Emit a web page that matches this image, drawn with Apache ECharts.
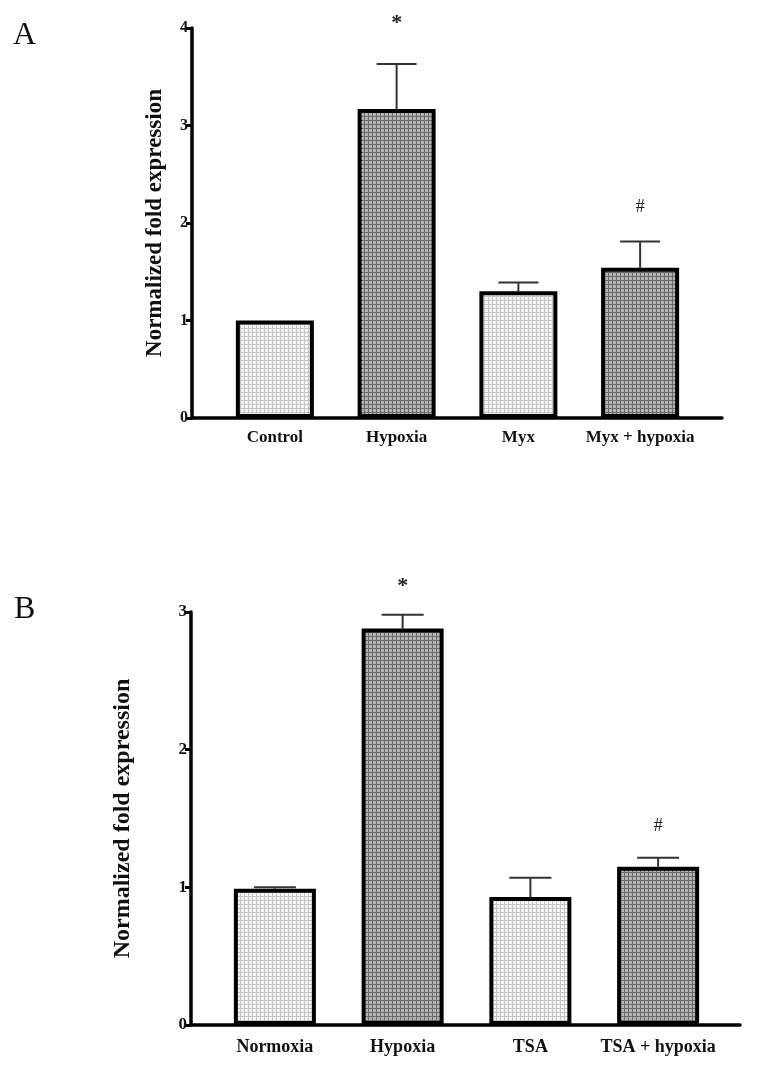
<!DOCTYPE html>
<html>
<head>
<meta charset="utf-8">
<script src="https://cdn.jsdelivr.net/npm/echarts@6/dist/echarts.min.js"></script>
<style>
html,body{margin:0;padding:0;background:#fff;}
#chart{width:760px;height:1067px;}
</style>
</head>
<body>
<div id="chart"></div>
<script>
// ---- Data ----
const categoriesA = ['Control', 'Hypoxia', 'Myx', 'Myx + hypoxia'];
const meansA = [1.0, 3.17, 1.30, 1.54];
const errorsA = [0.0, 0.46, 0.09, 0.27];
const marksA = ['', '*', '', '#'];
const markLevelsA = [null, 4.05, null, 2.16];
const yTicksA = [0, 1, 2, 3, 4];

const categoriesB = ['Normoxia', 'Hypoxia', 'TSA', 'TSA + hypoxia'];
const meansB = [0.99, 2.88, 0.93, 1.15];
const errorsB = [0.01, 0.10, 0.14, 0.065];
const marksB = ['', '*', '', '#'];
const markLevelsB = [null, 3.19, null, 1.44];
const yTicksB = [0, 1, 2, 3];

const isDark = [false, true, false, true];

// ---- Fill patterns ----
function makePattern(bg, line) {
  const c = document.createElement('canvas');
  c.width = 4; c.height = 4;
  const g = c.getContext('2d');
  g.fillStyle = bg; g.fillRect(0, 0, 4, 4);
  g.fillStyle = line;
  g.fillRect(0, 0, 4, 1);
  g.fillRect(0, 0, 1, 4);
  return { image: c, repeat: 'repeat' };
}
const lightFill = makePattern('#f6f6f6', '#c4c4c4');
const darkFill = makePattern('#b4b4b4', '#6a6a6a');

const serif = '"Liberation Serif", "Times New Roman", serif';

function panel(cfg) {
  const gi = cfg.gridIndexBase;
  const grids = [cfg.frameGrid, cfg.dataGrid];
  const xAxes = [
    { gridIndex: gi, type: 'value', min: 0, max: 1, axisLine: { show: true, lineStyle: { color: '#000', width: 3.5 } },
      axisTick: { show: false }, axisLabel: { show: false }, splitLine: { show: false } },
    { gridIndex: gi + 1, type: 'category', data: cfg.categories, axisLine: { show: false }, axisTick: { show: false },
      axisLabel: { interval: 0, color: '#111', fontFamily: serif, fontWeight: 'bold', fontSize: cfg.catFont, margin: cfg.catMargin } }
  ];
  const yAxes = [
    { gridIndex: gi, type: 'value', min: 0, max: cfg.yMax, interval: 1,
      name: 'Normalized fold expression', nameLocation: 'middle', nameGap: cfg.nameGap,
      nameTextStyle: { fontFamily: serif, fontWeight: 'bold', fontSize: cfg.nameFont, color: '#111' },
      axisLine: { show: true, lineStyle: { color: '#000', width: 3.5 } },
      axisTick: { show: true, length: 6, lineStyle: { color: '#000', width: 3 } },
      axisLabel: { color: '#111', fontFamily: serif, fontWeight: 'bold', fontSize: cfg.tickFont, margin: 4 },
      splitLine: { show: false } },
    { gridIndex: gi + 1, type: 'value', min: 0, max: cfg.yMax, interval: 1, show: false, splitLine: { show: false } }
  ];
  const xi = gi + 1, yi = gi + 1;
  const series = [
    { type: 'bar', xAxisIndex: xi, yAxisIndex: yi, barWidth: cfg.barWidth,
      data: cfg.means.map((v, i) => ({ value: v, itemStyle: { color: isDark[i] ? darkFill : lightFill } })),
      itemStyle: { borderColor: '#000', borderWidth: 4 }, z: 3, silent: true },
    { type: 'custom', xAxisIndex: xi, yAxisIndex: yi, z: 2, silent: true,
      data: cfg.means.map((v, i) => [i, v, cfg.errors[i]]).filter(d => d[2] > 0),
      renderItem: function (params, api) {
        const i = api.value(0), m = api.value(1), e = api.value(2);
        const p0 = api.coord([i, m]);
        const p1 = api.coord([i, m + e]);
        return { type: 'group', children: [
          { type: 'line', shape: { x1: p0[0], y1: p0[1], x2: p1[0], y2: p1[1] }, style: { stroke: '#333', lineWidth: 2 } },
          { type: 'line', shape: { x1: p1[0] - cfg.capHalf, y1: p1[1], x2: p1[0] + cfg.capHalf, y2: p1[1] }, style: { stroke: '#333', lineWidth: 2 } }
        ] };
      } },
    { type: 'custom', xAxisIndex: xi, yAxisIndex: yi, z: 4, silent: true,
      data: cfg.marks.map((t, i) => [i, cfg.markLevels[i] == null ? 0 : cfg.markLevels[i], t]).filter(d => d[2] !== ''),
      renderItem: function (params, api) {
        const p = api.coord([api.value(0), api.value(1)]);
        const t = cfg.marks[api.value(0)];
        return { type: 'text', x: p[0], y: p[1], style: { text: t, fontFamily: serif,
          fontWeight: t === '*' ? 'bold' : 'normal', fontSize: t === '*' ? 22 : 18, fill: '#222', align: 'center', verticalAlign: 'middle' } };
      } }
  ];
  return { grids, xAxes, yAxes, series };
}

const A = panel({
  gridIndexBase: 0,
  frameGrid: { left: 192, right: 38, top: 28, bottom: 1067 - 418 },
  dataGrid: { left: 214, right: 59, top: 28, bottom: 1067 - 418 },
  yMax: 4, categories: categoriesA, means: meansA, errors: errorsA, marks: marksA, markLevels: markLevelsA,
  barWidth: 78, capHalf: 20, catFont: 17, catMargin: 11, tickFont: 16, nameFont: 23, nameGap: 25
});
const B = panel({
  gridIndexBase: 2,
  frameGrid: { left: 191, right: 20, top: 612, bottom: 1067 - 1025 },
  dataGrid: { left: 211, right: 38, top: 612, bottom: 1067 - 1025 },
  yMax: 3, categories: categoriesB, means: meansB, errors: errorsB, marks: marksB, markLevels: markLevelsB,
  barWidth: 82, capHalf: 21, catFont: 18, catMargin: 13, tickFont: 17, nameFont: 24, nameGap: 56
});

const chart = echarts.init(document.getElementById('chart'), null, { renderer: 'canvas' });
chart.setOption({
  backgroundColor: '#fff',
  animation: false,
  grid: A.grids.concat(B.grids),
  xAxis: A.xAxes.concat(B.xAxes),
  yAxis: A.yAxes.concat(B.yAxes),
  series: A.series.concat(B.series),
  graphic: [
    { type: 'text', left: 13, top: 20, style: { text: 'A', fontFamily: serif, fontSize: 32, fill: '#111' } },
    { type: 'text', left: 14, top: 594, style: { text: 'B', fontFamily: serif, fontSize: 32, fill: '#111' } }
  ]
});
</script>
</body>
</html>
